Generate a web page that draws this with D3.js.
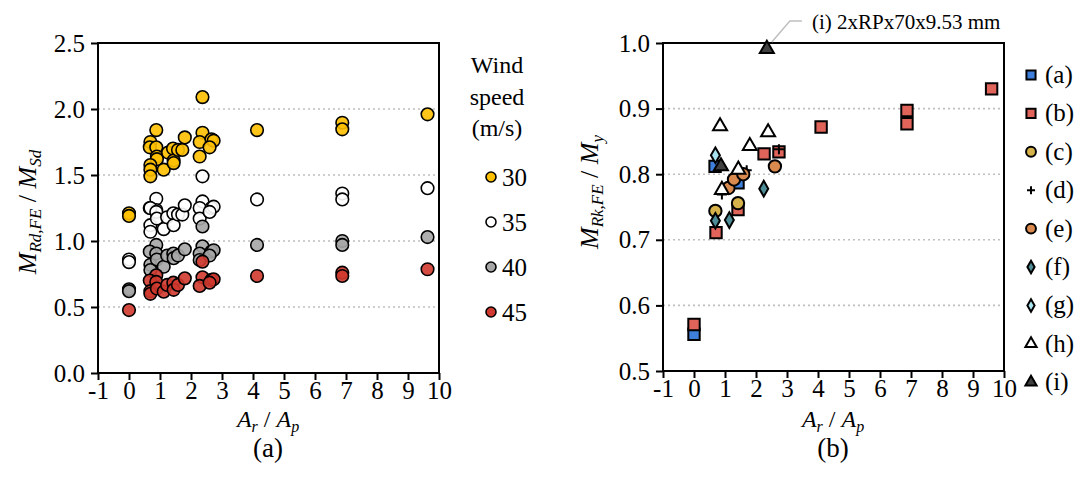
<!DOCTYPE html>
<html>
<head>
<meta charset="utf-8">
<script src="https://cdn.jsdelivr.net/npm/d3@7"></script>
<style>
  html, body { margin: 0; padding: 0; background: #fff; }
  svg { display: block; font-family: "Liberation Serif", "Times New Roman", serif; }
</style>
</head>
<body>
<svg id="chart" width="1081" height="491"></svg>
<script>
// ---------------- DATA ----------------
const xTickValues = [-1, 0, 1, 2, 3, 4, 5, 6, 7, 8, 9, 10];
const leftYTicks = [0.0, 0.5, 1.0, 1.5, 2.0, 2.5];
const rightYTicks = [0.5, 0.6, 0.7, 0.8, 0.9, 1.0];

const windLabels = ["30", "35", "40", "45"];
const windColors = ["#FFC000", "#FFFFFF", "#A6A6A6", "#D0392E"];

// [Ar/Ap, MRd,FE/MSd]
const wind30 = [[0,1.21],[0,1.19],[0.88,1.84],[0.69,1.75],[0.67,1.71],[0.88,1.71],[0.9,1.64],[0.9,1.62],[0.69,1.575],[0.69,1.54],[0.69,1.49],[1.12,1.54],[1.26,1.67],[1.42,1.70],[1.44,1.61],[1.44,1.59],[1.58,1.69],[1.72,1.69],[1.8,1.785],[2.37,2.09],[2.37,1.82],[2.28,1.75],[2.28,1.64],[2.66,1.77],[2.73,1.76],[2.6,1.71],[4.13,1.84],[6.88,1.896],[6.88,1.846],[9.63,1.96]];
const wind35 = [[0,0.86],[0,0.84],[0.88,1.32],[0.67,1.25],[0.88,1.235],[0.69,1.25],[0.88,1.22],[0.69,1.12],[0.69,1.07],[0.9,1.17],[1.12,1.09],[1.23,1.18],[1.43,1.21],[1.44,1.12],[1.58,1.2],[1.72,1.2],[1.8,1.27],[2.37,1.49],[2.37,1.30],[2.28,1.25],[2.28,1.17],[2.66,1.25],[2.73,1.26],[2.6,1.22],[4.13,1.315],[6.88,1.36],[6.88,1.315],[9.63,1.40]];
const wind40 = [[0,0.634],[0,0.62],[0.88,0.97],[0.67,0.92],[0.88,0.905],[0.69,0.82],[0.69,0.78],[0.9,0.86],[1.12,0.805],[1.23,0.89],[1.43,0.905],[1.44,0.87],[1.58,0.89],[1.8,0.937],[2.37,0.96],[2.37,1.11],[2.28,0.905],[2.28,0.856],[2.66,0.92],[2.73,0.93],[2.6,0.89],[4.13,0.97],[6.88,1.0],[6.88,0.97],[9.63,1.03]];
const wind45 = [[0,0.477],[0.88,0.74],[0.67,0.70],[0.88,0.69],[0.69,0.62],[0.69,0.60],[0.9,0.64],[1.12,0.616],[1.23,0.667],[1.43,0.684],[1.44,0.63],[1.58,0.667],[1.8,0.717],[2.37,0.725],[2.37,0.843],[2.28,0.66],[2.66,0.705],[2.73,0.71],[2.6,0.684],[4.13,0.735],[6.88,0.76],[6.88,0.735],[9.63,0.786]];

// [Ar/Ap, MRk,FE/My]
const seriesA = [[0,0.556],[0.68,0.812],[1.42,0.787]];
const seriesB = [[0,0.571],[0.71,0.711],[1.42,0.746],[2.26,0.831],[2.74,0.834],[4.1,0.872],[6.87,0.877],[6.87,0.897],[9.6,0.930]];
const seriesC = [[0.69,0.744],[1.42,0.756]];
const seriesD = [[0.9,0.769],[1.7,0.806],[2.74,0.838]];
const seriesE = [[1.11,0.779],[1.29,0.792],[1.59,0.800],[2.61,0.812]];
const seriesF = [[0.69,0.729],[1.14,0.730],[2.25,0.778]];
const seriesG = [[0.69,0.829]];
const seriesH = [[0.9,0.776],[1.43,0.807],[1.8,0.843],[2.39,0.864],[0.84,0.873]];
const seriesI = [[2.35,0.991],[0.87,0.812]];

const rightLabels = ["(a)","(b)","(c)","(d)","(e)","(f)","(g)","(h)","(i)"];
const rightShapes = ["square","square","circle","plus","circle","diamond","diamond","triangle","triangle"];
const rightColors = ["#3E7FDB","#E0645A","#D6B24A","#000000","#DA8A4E","#4E8D97","#A8E4EF","#FFFFFF","#404040"];
const annotationText = "(i) 2xRPx70x9.53 mm";

// ---------------- LAYOUT ----------------
const svg = d3.select("#chart");
const FONT = "Liberation Serif, Times New Roman, serif";

const L = {x0: 98, x1: 439, y0: 43, y1: 373};
const R = {x0: 663, x1: 1004, y0: 43, y1: 371};

const xL = d3.scaleLinear().domain([-1, 10]).range([L.x0, L.x1]);
const yL = d3.scaleLinear().domain([0, 2.5]).range([L.y1, L.y0]);
const xR = d3.scaleLinear().domain([-1, 10]).range([R.x0, R.x1]);
const yR = d3.scaleLinear().domain([0.5, 1.0]).range([R.y1, R.y0]);

const intFmt = d => String(d);  // hyphen-minus like the reference

function drawPanel(P, xs, ys, yTicks) {
  const g = svg.append("g");
  g.selectAll("line.grid").data(yTicks.slice(1, -1)).enter().append("line")
    .attr("x1", P.x0).attr("x2", P.x1)
    .attr("y1", d => ys(d)).attr("y2", d => ys(d))
    .attr("stroke", "#BFBFBF").attr("stroke-width", 1.6).attr("stroke-dasharray", "2,3");
  const xa = g.append("g").attr("transform", `translate(0,${P.y1})`)
    .call(d3.axisBottom(xs).tickValues(xTickValues).tickSize(7).tickPadding(1).tickFormat(intFmt));
  const ya = g.append("g").attr("transform", `translate(${P.x0},0)`)
    .call(d3.axisLeft(ys).tickValues(yTicks).tickSize(7).tickPadding(6).tickFormat(d3.format(".1f")));
  [xa, ya].forEach(a => {
    a.attr("font-family", FONT).attr("font-size", 25);
    a.select(".domain").remove();
    a.selectAll(".tick line").attr("stroke", "#000").attr("stroke-width", 2);
    a.selectAll(".tick text").attr("fill", "#000");
  });
  g.append("rect").attr("x", P.x0).attr("y", P.y0)
    .attr("width", P.x1 - P.x0).attr("height", P.y1 - P.y0)
    .attr("fill", "none").attr("stroke", "#000").attr("stroke-width", 2);
  return g;
}

drawPanel(L, xL, yL, leftYTicks);
drawPanel(R, xR, yR, rightYTicks);

// ---------------- LEFT POINTS ----------------
const leftSeries = [wind30, wind35, wind40, wind45];
const gl = svg.append("g");
leftSeries.forEach((s, i) => {
  gl.append("g").selectAll("circle").data(s).enter().append("circle")
    .attr("cx", d => xL(d[0])).attr("cy", d => yL(d[1])).attr("r", 6.3)
    .attr("fill", windColors[i]).attr("fill-opacity", 0.9)
    .attr("stroke", "#000").attr("stroke-width", 1.6);
});

// ---------------- RIGHT POINTS ----------------
function symbolPath(shape, scale) {
  const k = scale || 1;
  if (shape === "square") return d3.symbol(d3.symbolSquare, 130 * k * k)();
  if (shape === "circle") return d3.symbol(d3.symbolCircle, 120 * k * k)();
  if (shape === "diamond") return d3.symbol(d3.symbolDiamond, 70 * k * k)();
  if (shape === "triangle") return d3.symbol(d3.symbolTriangle, 85 * k * k)();
  if (shape === "plus") { const h = 5 * k; return `M${-h},0H${h}M0,${-h}V${h}`; }
}
const rightSeries = [seriesA, seriesB, seriesC, seriesD, seriesE, seriesF, seriesG, seriesH, seriesI];
const gr = svg.append("g");
rightSeries.forEach((s, i) => {
  const shape = rightShapes[i];
  gr.append("g").selectAll("path").data(s).enter().append("path")
    .attr("transform", d => `translate(${xR(d[0])},${yR(d[1])})`)
    .attr("d", symbolPath(shape, 1))
    .attr("fill", shape === "plus" ? "none" : rightColors[i])
    .attr("stroke", "#000").attr("stroke-width", 2);
});

// annotation
const tip = seriesI[0];
svg.append("polyline")
  .attr("points", `${xR(tip[0]) + 5},${yR(tip[1]) - 7} ${xR(tip[0]) + 23},${21} ${xR(tip[0]) + 35},${21}`)
  .attr("fill", "none").attr("stroke", "#BFBFBF").attr("stroke-width", 1.5);
svg.append("text").attr("x", 812).attr("y", 29)
  .attr("font-family", FONT).attr("font-size", 21).attr("fill", "#000")
  .text(annotationText);

// ---------------- LEFT LEGEND ----------------
const lgL = svg.append("g").attr("font-family", FONT).attr("fill", "#000");
["Wind", "speed", "(m/s)"].forEach((t, i) => {
  lgL.append("text").attr("x", 497).attr("y", 73 + i * 31.5).attr("text-anchor", "middle")
    .attr("font-size", 24).text(t);
});
windLabels.forEach((t, i) => {
  const y = 177 + i * 45;
  lgL.append("circle").attr("cx", 491).attr("cy", y).attr("r", 5)
    .attr("fill", windColors[i]).attr("stroke", "#000").attr("stroke-width", 1.6);
  lgL.append("text").attr("x", 502).attr("y", y + 8.5).attr("font-size", 25).text(t);
});

// ---------------- RIGHT LEGEND ----------------
const lgR = svg.append("g").attr("font-family", FONT).attr("fill", "#000");
rightLabels.forEach((t, i) => {
  const y = 75 + i * 38.4;
  const shape = rightShapes[i];
  lgR.append("path").attr("transform", `translate(1031,${y})`)
    .attr("d", symbolPath(shape, 0.8))
    .attr("fill", shape === "plus" ? "none" : rightColors[i])
    .attr("stroke", "#000").attr("stroke-width", 2);
  lgR.append("text").attr("x", 1045).attr("y", y + 8).attr("font-size", 25).text(t);
});

// ---------------- AXIS TITLES ----------------
function xTitle(cx) {
  const t = svg.append("text").attr("x", cx).attr("y", 427).attr("text-anchor", "middle")
    .attr("font-family", FONT).attr("font-size", 24).attr("fill", "#000");
  t.append("tspan").attr("font-style", "italic").text("A");
  t.append("tspan").attr("font-style", "italic").attr("font-size", 16).attr("dy", 5).text("r");
  t.append("tspan").attr("dy", -5).text(" / ");
  t.append("tspan").attr("font-style", "italic").text("A");
  t.append("tspan").attr("font-style", "italic").attr("font-size", 16).attr("dy", 5).text("p");
}
xTitle(268);
xTitle(833);

function yTitle(x, cy, sub1, sub2) {
  const t = svg.append("text").attr("transform", `translate(${x},${cy}) rotate(-90)`)
    .attr("text-anchor", "middle")
    .attr("font-family", FONT).attr("font-size", 26).attr("fill", "#000");
  t.append("tspan").attr("font-style", "italic").text("M");
  t.append("tspan").attr("font-style", "italic").attr("font-size", 17).attr("dy", 5).text(sub1);
  t.append("tspan").attr("dy", -5).text(" / ");
  t.append("tspan").attr("font-style", "italic").text("M");
  t.append("tspan").attr("font-style", "italic").attr("font-size", 17).attr("dy", 5).text(sub2);
}
yTitle(36, 212, "Rd,FE", "Sd");
yTitle(598, 192, "Rk,FE", "y");

[["(a)", 268], ["(b)", 833]].forEach(([t, x]) => {
  svg.append("text").attr("x", x).attr("y", 457).attr("text-anchor", "middle")
    .attr("font-family", FONT).attr("font-size", 27).attr("fill", "#000").text(t);
});
</script>
</body>
</html>
